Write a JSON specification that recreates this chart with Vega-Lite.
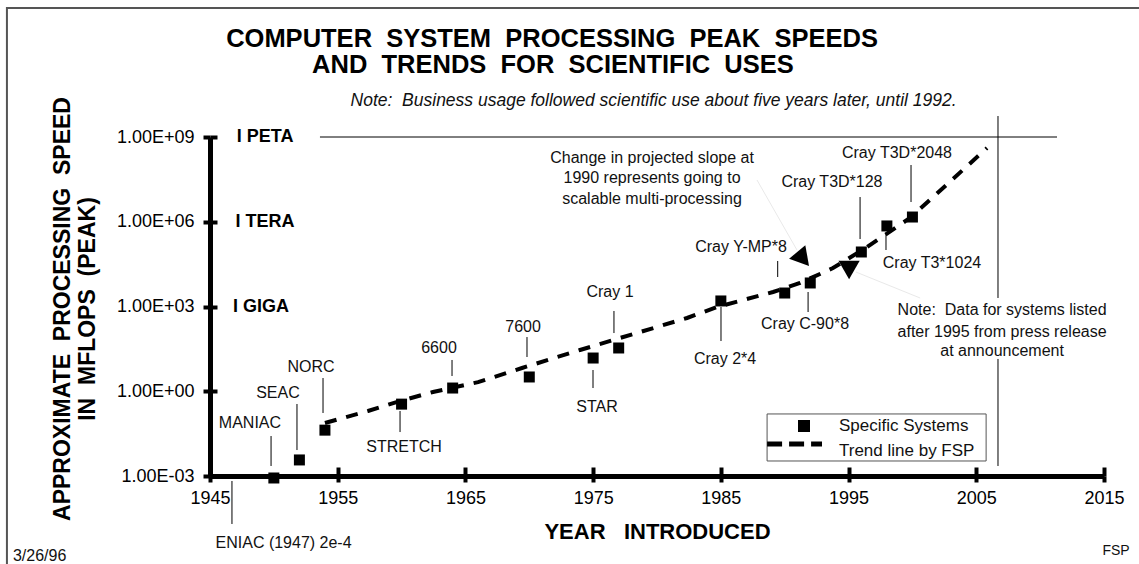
{
  "$schema": "https://vega.github.io/schema/vega-lite/v6.json",
  "width": 894,
  "height": 339,
  "autosize": {"type": "none"},
  "padding": {"left": 210, "top": 137, "right": 35, "bottom": 88},
  "background": "white",
  "config": {
    "view": {"stroke": null},
    "font": "Liberation Sans",
    "text": {"font": "Liberation Sans", "color": "black"},
    "axis": {"labelFont": "Liberation Sans", "titleFont": "Liberation Sans"}
  },
  "datasets": {
    "frame": [{"x": 1929.1, "x2": 2040, "y": 3.68e13, "y2": 1e-7}],
    "systems": [
      {"name": "MANIAC", "year": 1950, "mflops": 0.00085},
      {"name": "SEAC", "year": 1952, "mflops": 0.0037},
      {"name": "NORC", "year": 1954, "mflops": 0.042},
      {"name": "STRETCH", "year": 1960, "mflops": 0.35},
      {"name": "6600", "year": 1964, "mflops": 1.3},
      {"name": "7600", "year": 1970, "mflops": 3.2},
      {"name": "STAR", "year": 1975, "mflops": 15},
      {"name": "Cray 1", "year": 1977, "mflops": 34},
      {"name": "Cray 2*4", "year": 1985, "mflops": 1570},
      {"name": "Cray Y-MP*8", "year": 1990, "mflops": 3000},
      {"name": "Cray C-90*8", "year": 1992, "mflops": 6800},
      {"name": "Cray T3D*128", "year": 1996, "mflops": 85000},
      {"name": "Cray T3*1024", "year": 1998, "mflops": 710000},
      {"name": "Cray T3D*2048", "year": 2000, "mflops": 1470000}
    ],
    "sysLabels": [
      {"label": "MANIAC", "x": 1948.13, "y": 0.075},
      {"label": "SEAC", "x": 1950.32, "y": 0.87},
      {"label": "NORC", "x": 1952.91, "y": 7.2},
      {"label": "STRETCH", "x": 1960.19, "y": 0.0106},
      {"label": "6600", "x": 1962.93, "y": 34},
      {"label": "7600", "x": 1969.51, "y": 188},
      {"label": "STAR", "x": 1975.3, "y": 0.277},
      {"label": "Cray 1", "x": 1976.32, "y": 3260},
      {"label": "Cray 2*4", "x": 1985.33, "y": 13.9},
      {"label": "Cray Y-MP*8", "x": 1986.58, "y": 127600},
      {"label": "Cray C-90*8", "x": 1991.59, "y": 240},
      {"label": "Cray T3D*128", "x": 1993.7, "y": 25500000},
      {"label": "Cray T3*1024", "x": 2001.53, "y": 34700},
      {"label": "Cray T3D*2048", "x": 1998.79, "y": 272000000},
      {"label": "ENIAC (1947) 2e-4", "x": 1950.76, "y": 4.08e-6},
      {"label": "Change in projected slope at", "x": 1979.61, "y": 181000000},
      {"label": "1990 represents going to", "x": 1979.61, "y": 34000000},
      {"label": "scalable multi-processing", "x": 1979.61, "y": 6380000},
      {"label": "Note:\u00a0\u00a0Data for systems listed", "x": 2007.02, "y": 752},
      {"label": "after 1995 from press release", "x": 2007.02, "y": 125},
      {"label": "at announcement", "x": 2007.02, "y": 26.6}
    ],
    "leaders": [
      {"x": 1949.78, "y": 0.026, "y2": 0.00226},
      {"x": 1951.81, "y": 0.354, "y2": 0.0083},
      {"x": 1953.85, "y": 2.94, "y2": 0.17},
      {"x": 1959.88, "y": 0.2, "y2": 0.036},
      {"x": 1963.95, "y": 12.8, "y2": 3.47},
      {"x": 1969.82, "y": 83, "y2": 16.3},
      {"x": 1974.99, "y": 5.65, "y2": 1.3},
      {"x": 1976.63, "y": 693, "y2": 115},
      {"x": 1985.01, "y": 960, "y2": 60},
      {"x": 1989.45, "y": 40800, "y2": 11070},
      {"x": 1991.83, "y": 3260, "y2": 638},
      {"x": 1995.9, "y": 7500000, "y2": 245000},
      {"x": 1997.93, "y": 400000, "y2": 100000},
      {"x": 1999.89, "y": 102000000, "y2": 5000000},
      {"x": 1946.72, "y": 0.000666, "y2": 0.00002}
    ],
    "trend": [
      {"year": 1954.0, "mflops": 0.075},
      {"year": 1957.37, "mflops": 0.2},
      {"year": 1959.88, "mflops": 0.45},
      {"year": 1962.46, "mflops": 0.94},
      {"year": 1965.99, "mflops": 2.1},
      {"year": 1969.43, "mflops": 6.65},
      {"year": 1973.97, "mflops": 28.8},
      {"year": 1977.1, "mflops": 76.7},
      {"year": 1982.35, "mflops": 392},
      {"year": 1984.7, "mflops": 960},
      {"year": 1989.09, "mflops": 3260},
      {"year": 1991.2, "mflops": 6790},
      {"year": 1993.78, "mflops": 23060},
      {"year": 1996.45, "mflops": 127600},
      {"year": 1999.81, "mflops": 1360000},
      {"year": 2005.84, "mflops": 408000000}
    ],
    "refLines": [
      {"x": 1953.61, "x2": 2011.32, "y": 1000000000, "y2": 1000000000},
      {"x": 2006.7, "x2": 2006.7, "y": 5530000000, "y2": 2000},
      {"x": 2006.7, "x2": 2006.7, "y": 13.9, "y2": 0.00226}
    ],
    "faint": [
      {"x": 1987.83, "x2": 1990.96, "y": 30000000, "y2": 100000},
      {"x": 2000.6, "x2": 1995.58, "y": 2000, "y2": 16600}
    ],
    "arrows": [
      {"x": 1991.44, "y": 48000, "angle": 140},
      {"x": 1995.04, "y": 19600, "angle": 180}
    ],
    "levels": [
      {"label": "I PETA", "x": 1947.1, "y": 1000000000},
      {"label": "I TERA", "x": 1947.0, "y": 1000000},
      {"label": "I GIGA", "x": 1946.8, "y": 1000}
    ],
    "titleLines": [
      {"label": "COMPUTER\u00a0\u00a0SYSTEM\u00a0\u00a0PROCESSING\u00a0\u00a0PEAK\u00a0\u00a0SPEEDS", "x": 1971.78, "y": 1.535e12},
      {"label": "AND\u00a0\u00a0TRENDS\u00a0\u00a0FOR\u00a0\u00a0SCIENTIFIC\u00a0\u00a0USES", "x": 1971.85, "y": 1.84e11}
    ],
    "subtitle": [
      {"label": "Note:\u00a0\u00a0Business usage followed scientific use about five years later, until 1992.", "x": 1979.73, "y": 1.88e10}
    ],
    "stamp": [{"label": "3/26/96", "x": 1929.57, "y": 9.5e-7}],
    "author": [{"label": "FSP", "x": 2015.94, "y": 2.21e-6}],
    "legendBox": [{"x": 1988.62, "x2": 2005.77, "y": 0.157, "y2": 0.0034}],
    "legendSquare": [{"x": 1991.51, "y": 0.0589}],
    "legendDash": [{"x": 1988.62, "x2": 1992.92, "y": 0.0136}],
    "legendLabels": [
      {"label": "Specific Systems", "x": 1994.25, "y": 0.0589},
      {"label": "Trend line by FSP", "x": 1994.25, "y": 0.00767}
    ]
  },
  "resolve": {"axis": {"x": "independent", "y": "independent"}},
  "layer": [
    {
      "data": {"name": "frame"},
      "mark": {"type": "rect", "fill": "transparent", "stroke": "#555555", "strokeWidth": 2},
      "encoding": {
        "x": {"field": "x", "type": "quantitative", "axis": null, "scale": {"domain": [1945, 2015], "nice": false, "zero": false}},
        "x2": {"field": "x2"},
        "y": {"field": "y", "type": "quantitative", "axis": null, "scale": {"type": "log", "domain": [0.001, 1000000000], "nice": false}},
        "y2": {"field": "y2"}
      }
    },
    {
      "data": {"name": "refLines"},
      "mark": {"type": "rule", "color": "black", "strokeWidth": 1},
      "encoding": {
        "x": {"field": "x", "type": "quantitative", "axis": null},
        "x2": {"field": "x2"},
        "y": {"field": "y", "type": "quantitative", "axis": null},
        "y2": {"field": "y2"}
      }
    },
    {
      "data": {"name": "faint"},
      "mark": {"type": "rule", "color": "#e9e9e9", "strokeWidth": 1},
      "encoding": {
        "x": {"field": "x", "type": "quantitative", "axis": null},
        "x2": {"field": "x2"},
        "y": {"field": "y", "type": "quantitative", "axis": null},
        "y2": {"field": "y2"}
      }
    },
    {
      "data": {"name": "leaders"},
      "mark": {"type": "rule", "color": "black", "strokeWidth": 1},
      "encoding": {
        "x": {"field": "x", "type": "quantitative", "axis": {"orient": "bottom", "values": [1945, 1955, 1965, 1975, 1985, 1995, 2005, 2015], "domain": false, "labels": false, "grid": false, "ticks": true, "tickSize": 9, "tickWidth": 4, "tickColor": "black", "offset": -9, "title": null}},
        "y": {"field": "y", "type": "quantitative", "axis": {"orient": "left", "values": [0.001, 1, 1000, 1000000, 1000000000], "domain": false, "labels": false, "grid": false, "ticks": true, "tickSize": 7, "tickWidth": 4, "tickColor": "black", "offset": -7, "title": null}},
        "y2": {"field": "y2"}
      }
    },
    {
      "data": {"name": "trend"},
      "mark": {"type": "line", "color": "black", "strokeWidth": 4, "strokeDash": [12, 10]},
      "encoding": {
        "x": {"field": "year", "type": "quantitative", "axis": null},
        "y": {"field": "mflops", "type": "quantitative", "axis": null}
      }
    },
    {
      "data": {"name": "legendBox"},
      "mark": {"type": "rect", "fill": "white", "stroke": "#555555", "strokeWidth": 1},
      "encoding": {
        "x": {"field": "x", "type": "quantitative", "axis": null},
        "x2": {"field": "x2"},
        "y": {"field": "y", "type": "quantitative", "axis": null},
        "y2": {"field": "y2"}
      }
    },
    {
      "data": {"name": "systems"},
      "mark": {"type": "point", "shape": "square", "filled": true, "color": "black", "size": 121, "opacity": 1},
      "encoding": {
        "x": {"field": "year", "type": "quantitative",
          "axis": {"orient": "bottom", "values": [1945, 1955, 1965, 1975, 1985, 1995, 2005, 2015], "format": "d", "grid": false,
            "domainColor": "black", "domainWidth": 5, "tickColor": "black", "tickWidth": 4, "tickSize": 6,
            "labelFontSize": 18, "labelColor": "black", "labelPadding": 7, "labelFlush": false, "labelOverlap": false,
            "title": "YEAR\u00a0\u00a0\u00a0INTRODUCED", "titleFontSize": 22, "titleFontWeight": "bold", "titleColor": "black",
            "titleX": 447, "titleY": 62, "titleAlign": "center", "titleBaseline": "alphabetic"}},
        "y": {"field": "mflops", "type": "quantitative",
          "axis": {"orient": "left", "values": [0.001, 1, 1000, 1000000, 1000000000], "grid": false,
            "labelExpr": "'1.00E' + (datum.value < 1 ? '-' : '+') + pad(toString(abs(round(log(datum.value) / LN10))), 2, '0', 'left')",
            "domainColor": "black", "domainWidth": 5, "tickColor": "black", "tickWidth": 4, "tickSize": 7,
            "labelFontSize": 18, "labelColor": "black", "labelPadding": 9, "labelFlush": false, "labelOverlap": false,
            "title": ["APPROXIMATE\u00a0\u00a0PROCESSING\u00a0\u00a0SPEED", "IN\u00a0\u00a0MFLOPS\u00a0\u00a0(PEAK)"], "titleFontSize": 23, "titleFontWeight": "bold", "titleColor": "black",
            "titleAngle": -90, "titleX": -148, "titleY": 171.5, "titleAlign": "center", "titleBaseline": "middle", "titleLineHeight": 25}},
        "tooltip": {"field": "name", "type": "nominal"}
      }
    },
    {
      "data": {"name": "arrows"},
      "mark": {"type": "point", "shape": "triangle-up", "filled": true, "color": "black", "size": 450, "opacity": 1},
      "encoding": {
        "x": {"field": "x", "type": "quantitative", "axis": null},
        "y": {"field": "y", "type": "quantitative", "axis": null},
        "angle": {"field": "angle", "type": "quantitative", "scale": null}
      }
    },
    {
      "data": {"name": "sysLabels"},
      "mark": {"type": "text", "fontSize": 16, "align": "center", "baseline": "middle", "color": "#111111"},
      "encoding": {
        "x": {"field": "x", "type": "quantitative", "axis": null},
        "y": {"field": "y", "type": "quantitative", "axis": null},
        "text": {"field": "label", "type": "nominal"}
      }
    },
    {
      "data": {"name": "levels"},
      "mark": {"type": "text", "fontSize": 18, "fontWeight": "bold", "align": "left", "baseline": "middle", "color": "black"},
      "encoding": {
        "x": {"field": "x", "type": "quantitative", "axis": null},
        "y": {"field": "y", "type": "quantitative", "axis": null},
        "text": {"field": "label", "type": "nominal"}
      }
    },
    {
      "data": {"name": "titleLines"},
      "mark": {"type": "text", "fontSize": 25.5, "fontWeight": "bold", "align": "center", "baseline": "alphabetic", "color": "black"},
      "encoding": {
        "x": {"field": "x", "type": "quantitative", "axis": null},
        "y": {"field": "y", "type": "quantitative", "axis": null},
        "text": {"field": "label", "type": "nominal"}
      }
    },
    {
      "data": {"name": "subtitle"},
      "mark": {"type": "text", "fontSize": 17.5, "fontStyle": "italic", "align": "center", "baseline": "middle", "color": "#111111"},
      "encoding": {
        "x": {"field": "x", "type": "quantitative", "axis": null},
        "y": {"field": "y", "type": "quantitative", "axis": null},
        "text": {"field": "label", "type": "nominal"}
      }
    },
    {
      "data": {"name": "stamp"},
      "mark": {"type": "text", "fontSize": 16, "align": "left", "baseline": "alphabetic", "color": "#111111"},
      "encoding": {
        "x": {"field": "x", "type": "quantitative", "axis": null},
        "y": {"field": "y", "type": "quantitative", "axis": null},
        "text": {"field": "label", "type": "nominal"}
      }
    },
    {
      "data": {"name": "author"},
      "mark": {"type": "text", "fontSize": 14, "align": "center", "baseline": "middle", "color": "#111111"},
      "encoding": {
        "x": {"field": "x", "type": "quantitative", "axis": null},
        "y": {"field": "y", "type": "quantitative", "axis": null},
        "text": {"field": "label", "type": "nominal"}
      }
    },
    {
      "data": {"name": "legendDash"},
      "mark": {"type": "rule", "color": "black", "strokeWidth": 5, "strokeDash": [15, 7]},
      "encoding": {
        "x": {"field": "x", "type": "quantitative", "axis": null},
        "x2": {"field": "x2"},
        "y": {"field": "y", "type": "quantitative", "axis": null}
      }
    },
    {
      "data": {"name": "legendSquare"},
      "mark": {"type": "point", "shape": "square", "filled": true, "color": "black", "size": 144, "opacity": 1},
      "encoding": {
        "x": {"field": "x", "type": "quantitative", "axis": null},
        "y": {"field": "y", "type": "quantitative", "axis": null}
      }
    },
    {
      "data": {"name": "legendLabels"},
      "mark": {"type": "text", "fontSize": 17, "align": "left", "baseline": "middle", "color": "#111111"},
      "encoding": {
        "x": {"field": "x", "type": "quantitative", "axis": null},
        "y": {"field": "y", "type": "quantitative", "axis": null},
        "text": {"field": "label", "type": "nominal"}
      }
    }
  ]
}
